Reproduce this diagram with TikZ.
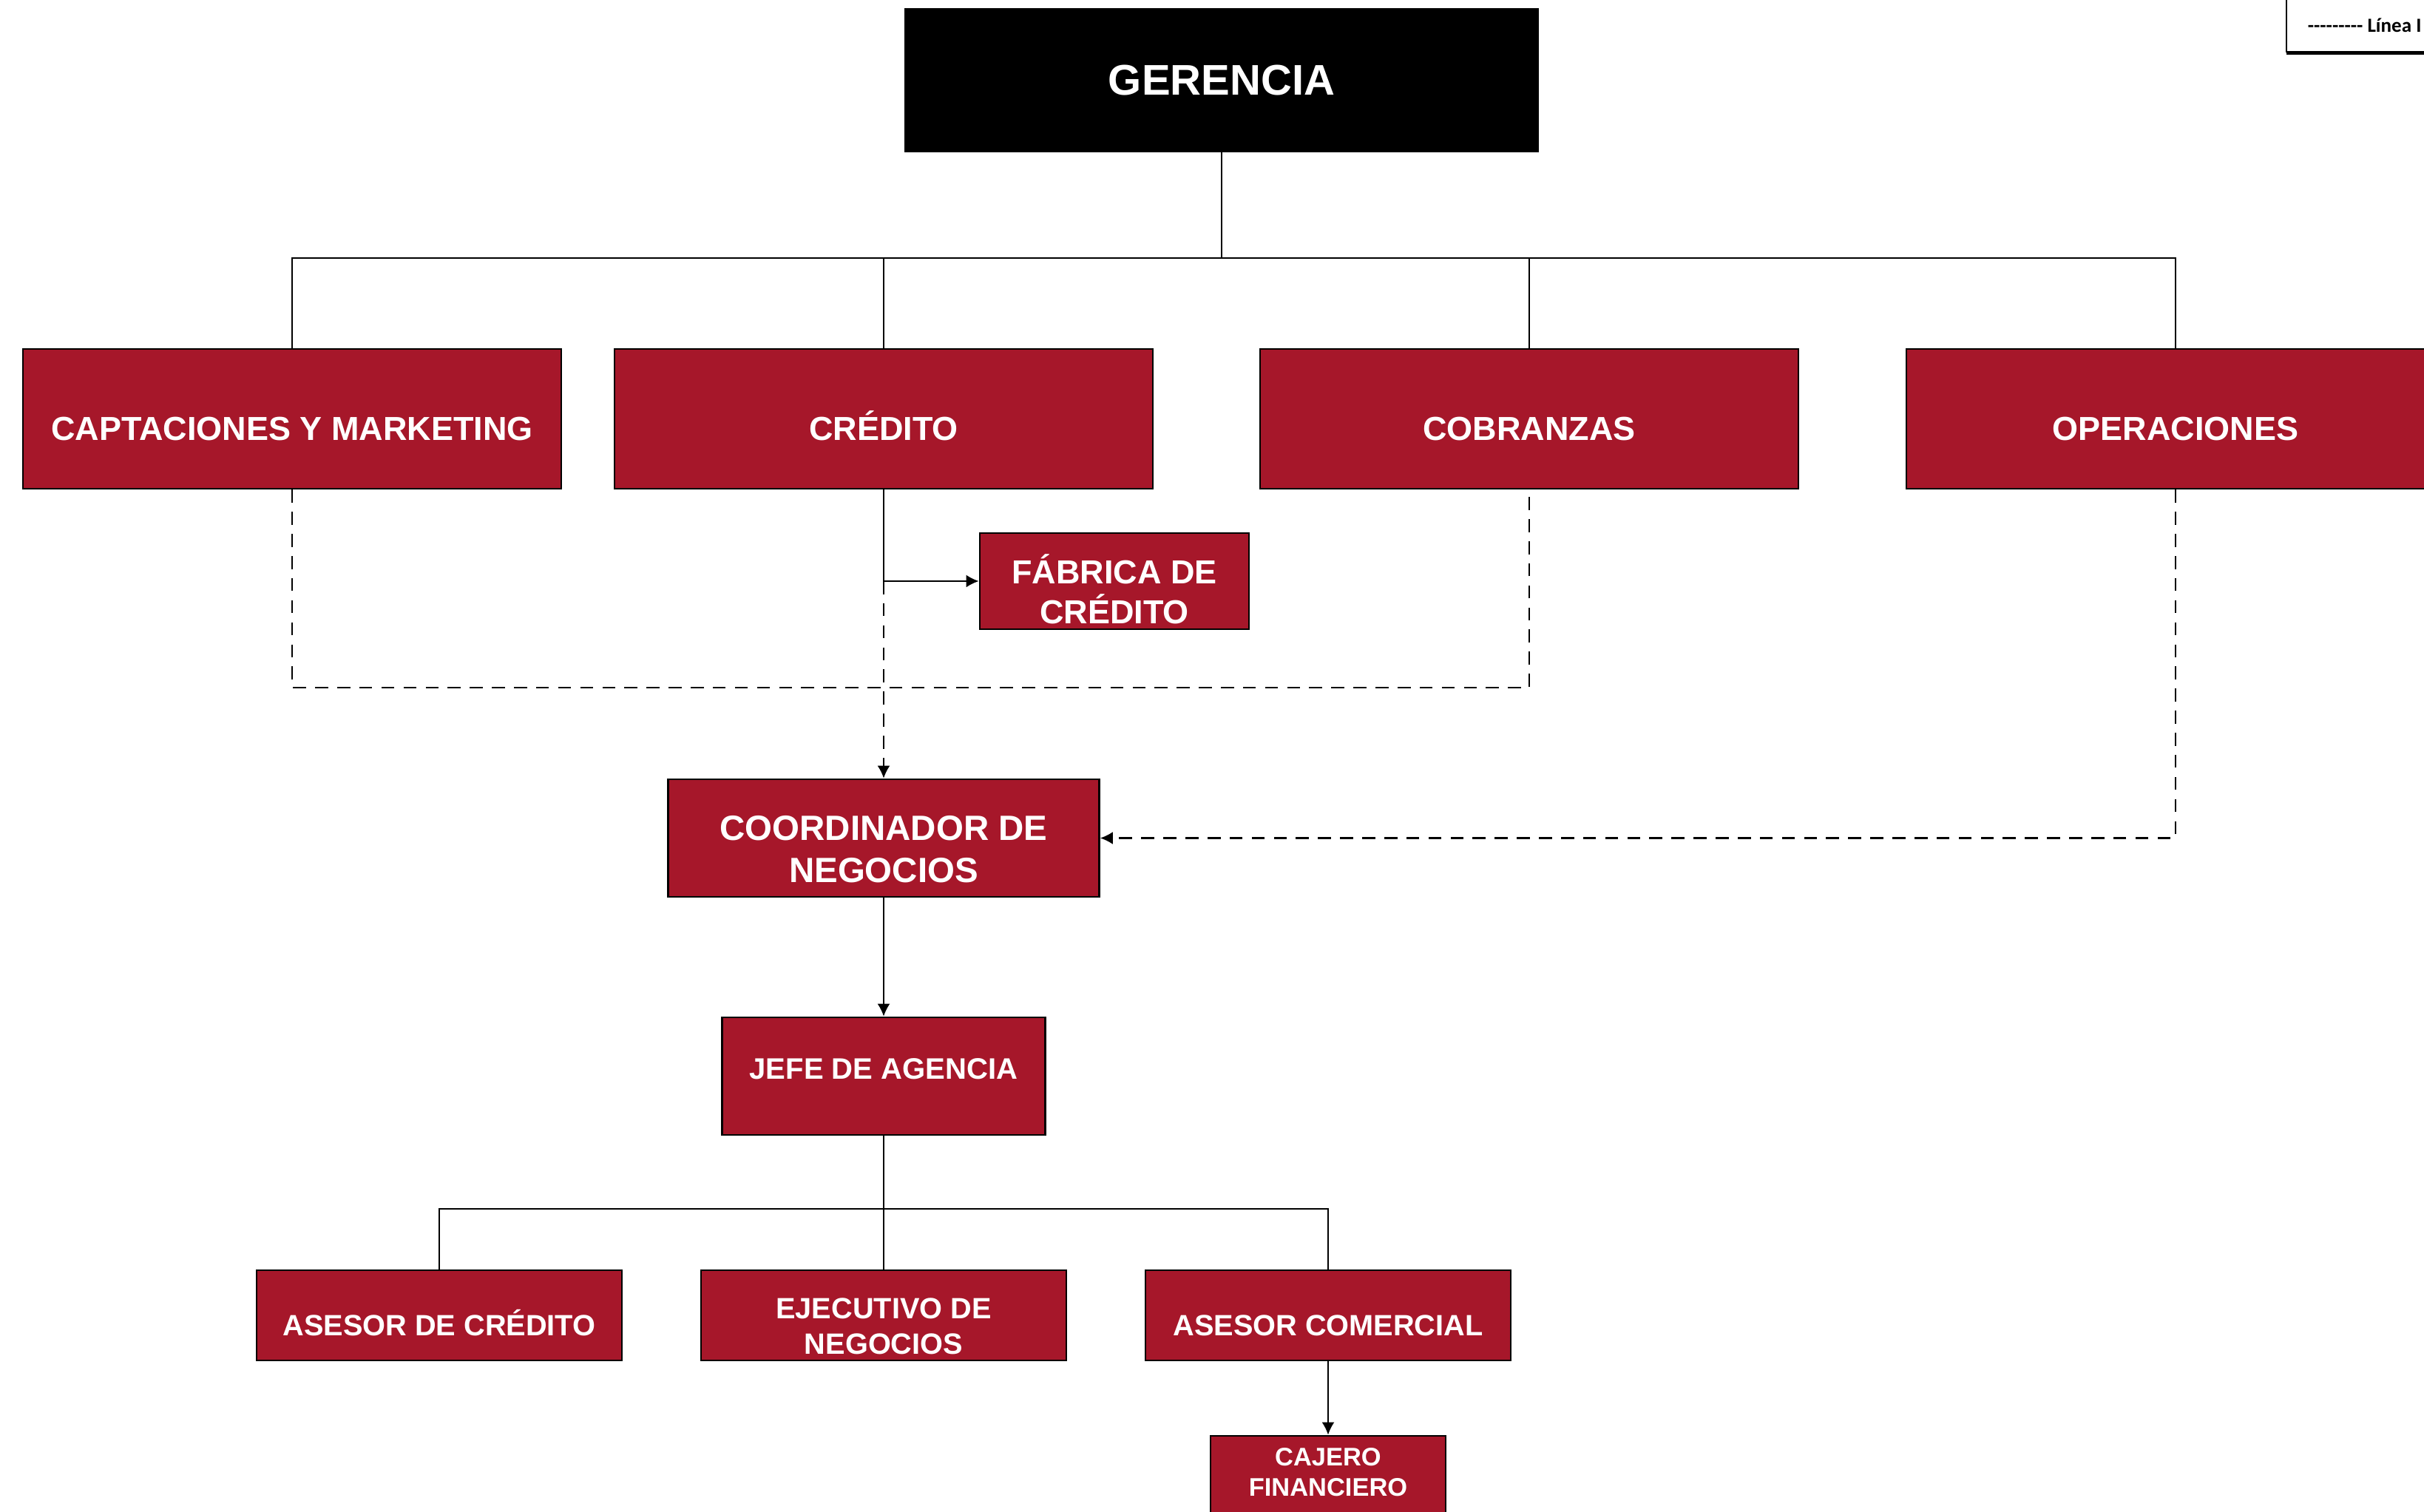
\documentclass[tikz,border=0pt]{standalone}
\usepackage{fontspec}
\setmainfont{Liberation Sans}
\newfontfamily\leyfont{Carlito}
\usetikzlibrary{shadows,arrows.meta}
\definecolor{rojo}{RGB}{166,23,42}
\newcommand{\tam}[1]{\fontsize{#1}{1.2\dimexpr #1\relax}\selectfont\bfseries}
\newcommand{\alto}[1]{\rule{0pt}{#1}}
\newcommand{\hondo}[1]{\rule[-#1]{0pt}{0pt}}

\begin{document}
\begin{tikzpicture}[
	cargo/.style={draw=black, line width=0.8pt, fill=rojo, text=white, align=center, inner sep=0pt},
	linea/.style={line width=0.6pt},
	punteada/.style={line width=0.6pt, dash pattern=on 5pt off 3.5pt},
	>={Latex[length=1.7mm,width=1.7mm]}]
	\useasboundingbox (0,0) rectangle (32.78,-20.45);
	%\draw[step=1cm,color=gray!30] (0,-21) grid (33,0);

	\node[cargo, fill=black, minimum width=8.55cm, minimum height=1.93cm, font=\tam{16.5pt}] (ger) at (16.52,-1.085) {GERENCIA};

	\node[cargo, minimum width=7.28cm, minimum height=1.89cm, font=\tam{12.8pt}, text height=0.59cm, text depth=0cm] (capt) at (3.95,-5.665) {CAPTACIONES Y MARKETING};
	\node[cargo, minimum width=7.28cm, minimum height=1.89cm, font=\tam{12.8pt}, text height=0.59cm, text depth=0cm] (cred) at (11.95,-5.665) {CRÉDITO};
	\node[cargo, minimum width=7.28cm, minimum height=1.89cm, font=\tam{12.8pt}, text height=0.59cm, text depth=0cm] (cobr) at (20.68,-5.665) {COBRANZAS};
	\node[cargo, minimum width=7.28cm, minimum height=1.89cm, font=\tam{12.8pt}, text height=0.59cm, text depth=0cm] (oper) at (29.42,-5.665) {OPERACIONES};

	\node[cargo, minimum width=3.64cm, minimum height=1.30cm, font=\tam{12.8pt}] (fab) at (15.07,-7.86) {\alto{0.61cm}FÁBRICA DE\\CRÉDITO};
	\node[cargo, minimum width=5.83cm, minimum height=1.59cm, font=\tam{13.5pt}] (coord) at (11.95,-11.335) {\alto{0.63cm}COORDINADOR DE\\NEGOCIOS};
	\node[cargo, minimum width=4.37cm, minimum height=1.59cm, font=\tam{11.4pt}, text height=0.29cm, text depth=0.2cm] (jefe) at (11.95,-14.555) {JEFE DE AGENCIA};

	\node[cargo, minimum width=4.94cm, minimum height=1.22cm, font=\tam{11.3pt}, text height=0.555cm, text depth=0cm] (asc) at (5.94,-17.79) {ASESOR DE CRÉDITO};
	\node[cargo, minimum width=4.94cm, minimum height=1.22cm, font=\tam{11.3pt}] (ejec) at (11.95,-17.79) {\alto{0.575cm}EJECUTIVO DE\\NEGOCIOS};
	\node[cargo, minimum width=4.94cm, minimum height=1.22cm, font=\tam{11.3pt}, text height=0.555cm, text depth=0cm] (asco) at (17.96,-17.79) {ASESOR COMERCIAL};
	\node[cargo, minimum width=3.18cm, minimum height=1.10cm, font=\tam{9.8pt}] (caj) at (17.96,-19.97) {CAJERO\\FINANCIERO\hondo{0.12cm}};

	\node[draw, line width=0.5pt, fill=white, anchor=north west, minimum height=0.71cm, inner xsep=0.29cm, inner ysep=0pt, font=\leyfont\bfseries\fontsize{7.7pt}{9pt}\selectfont, drop shadow={shadow xshift=0pt, shadow yshift=-1.2pt, fill=black, opacity=1}] (ley) at (30.91,0.02) {-{}-{}-{}-{}-{}-{}-{}-{}- Línea I};

	\coordinate (bus) at (0,-3.49);
	\coordinate (bus2) at (0,-16.35);
	\coordinate (baja) at (0,-9.30);
	\coordinate (crf) at (cred.south |- fab.west);

	\draw[linea] (ger.south) -- (ger.south |- bus) -| (capt.north);
	\draw[linea] (ger.south |- bus) -| (cred.north);
	\draw[linea] (ger.south |- bus) -| (cobr.north);
	\draw[linea] (ger.south |- bus) -| (oper.north);

	\draw[linea] (cred.south) -- (crf);
	\draw[linea,->] (crf) -- (fab.west);
	\draw[punteada,->] (crf) -- (coord.north);
	\draw[punteada] (capt.south) |- (cobr.south |- baja) -- (cobr.south);
	\draw[punteada,->] (oper.south) |- (coord.east);

	\draw[linea,->] (coord.south) -- (jefe.north);
	\draw[linea] (jefe.south) -- (jefe.south |- bus2) -| (asc.north);
	\draw[linea] (jefe.south |- bus2) -- (ejec.north);
	\draw[linea] (jefe.south |- bus2) -| (asco.north);
	\draw[linea,->] (asco.south) -- (caj.north);
\end{tikzpicture}
\end{document}
